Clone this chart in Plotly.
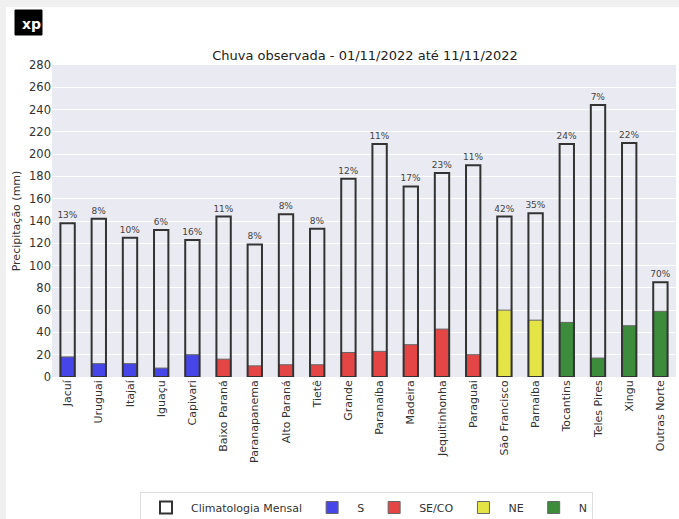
import plotly.graph_objects as go

categories = ["Jacuí", "Uruguai", "Itajaí", "Iguaçu", "Capivari", "Baixo Paraná",
              "Paranapanema", "Alto Paraná", "Tietê", "Grande", "Paranaíba", "Madeira",
              "Jequitinhonha", "Paraguai", "São Francisco", "Parnaíba", "Tocantins",
              "Teles Pires", "Xingu", "Outras Norte"]
climatologia = [138, 142, 125, 132, 123, 144, 119, 146, 133, 178, 209, 171,
                183, 190, 144, 147, 209, 244, 210, 85]
observado = [18, 12, 12, 8, 20, 16, 10, 11, 11, 22, 23, 29,
             43, 20, 60, 51, 49, 17, 46, 59]
regiao = ["S", "S", "S", "S", "S", "SE/CO", "SE/CO", "SE/CO", "SE/CO", "SE/CO",
          "SE/CO", "SE/CO", "SE/CO", "SE/CO", "NE", "NE", "N", "N", "N", "N"]
pct_labels = ["13%", "8%", "10%", "6%", "16%", "11%", "8%", "8%", "8%", "12%",
              "11%", "17%", "23%", "11%", "42%", "35%", "24%", "7%", "22%", "70%"]
regioes = ["S", "SE/CO", "NE", "N"]
cores = {"S": "#4646e8", "SE/CO": "#e44646", "NE": "#e4e446", "N": "#3c8c3c"}
yticks = list(range(0, 281, 20))

BW = 0.46
fig = go.Figure()

for r in regioes:
    xs = [c for c, g in zip(categories, regiao) if g == r]
    ys = [v for v, g in zip(observado, regiao) if g == r]
    fig.add_trace(go.Bar(
        x=xs, y=ys, name=r, width=BW, legendrank=2 + regioes.index(r),
        marker=dict(color=cores[r], line=dict(color="#666666", width=1)),
    ))

fig.add_trace(go.Bar(
    x=categories, y=climatologia, name="Climatologia Mensal", width=BW, legendrank=1,
    marker=dict(color="rgba(0,0,0,0)", line=dict(color="#333333", width=2)),
    text=pct_labels, textposition="outside", cliponaxis=False,
    textfont=dict(size=9, color="#444444"),
))

W, H = 673, 512
L, R, T, B = 46, 3, 58, 142
pw, ph = W - L - R, H - T - B

def px(x):
    return (x - L) / pw

def py(y):
    return (H - B - y) / ph

shapes = [
    dict(type="rect", xref="paper", yref="paper", x0=px(9), x1=px(36), y0=py(28), y1=py(3),
         fillcolor="#000000", line=dict(color="#000000", width=1)),
]

fig.update_layout(
    width=W, height=H,
    margin=dict(l=L, r=R, t=T, b=B, autoexpand=False),
    paper_bgcolor="white", plot_bgcolor="#eaeaf2",
    barmode="overlay",
    uniformtext=dict(minsize=9, mode="show"),
    font=dict(family="DejaVu Sans", color="#333333", size=11),
    title=dict(text="Chuva observada - 01/11/2022 até 11/11/2022", x=359 / W,
               xanchor="center", y=1 - 48 / H, yanchor="middle",
               font=dict(size=13, color="#222222")),
    xaxis=dict(categoryorder="array", categoryarray=categories, tickangle=-90,
               showgrid=False, zeroline=False, showline=False, ticks="",
               tickfont=dict(size=11, color="#333333"), range=[-0.5, len(categories) - 0.5]),
    yaxis=dict(range=[0, 280], tickvals=yticks, showgrid=True, gridcolor="white", gridwidth=1,
               zeroline=False, showline=False, ticks="", tickfont=dict(size=11.5, color="#333333"),
               title=dict(text="Precipitação (mm)", font=dict(size=11, color="#333333"), standoff=6)),
    legend=dict(orientation="h", x=px(360.5), xanchor="center", y=py(485), yanchor="top",
                bgcolor="white", bordercolor="#dddddd", borderwidth=1, itemwidth=40,
                font=dict(size=11, color="#333333"), traceorder="normal"),
    shapes=shapes,
    annotations=[dict(text="<b>xp</b>", xref="paper", yref="paper", x=px(25), y=py(17),
                      xanchor="center", yanchor="middle", showarrow=False,
                      font=dict(size=14, color="white", family="DejaVu Sans"))],
)

post = ("document.documentElement.style.background='#f0f0f0';"
        "document.body.style.background='#f0f0f0';"
        "document.body.style.margin='7px 0 0 6px';"
        "document.body.style.overflow='hidden';")
fig.write_html("out.html", post_script=post)
